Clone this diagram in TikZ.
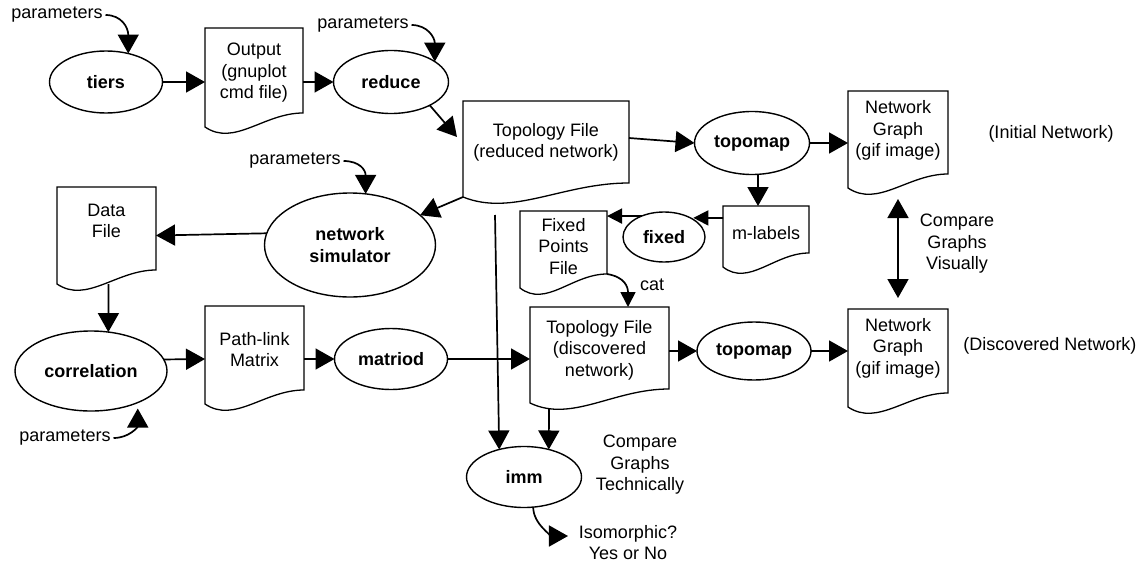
\documentclass[tikz,border=0pt]{standalone}
\usepackage{fontspec}
\setmainfont{Liberation Sans}
\usetikzlibrary{shapes.geometric,arrows.meta,calc}

% Document symbol: rectangle with a wavy bottom edge.
% #1 name, #2 left x, #3 top y, #4 right x, #5 left-corner y, #6 text y, #7 text
\newcommand\docshape[7]{%
  \node[docbody, minimum width={#4-#2}, minimum height={#5-#3}] (#1) at ({(#2+#4)/2},{(#3+#5)/2}) {};
  \draw[docline] (#1.north west) -- (#1.north east) -- ([yshift=14pt]#1.south east) coordinate (#1-rc)
     .. controls ([xshift={0.6*(#4-#2)}, yshift=14pt]#1.south west)
        and ([xshift={0.3*(#4-#2)}, yshift=-20pt]#1.south west) .. (#1.south west) -- cycle;
  \node[doctext] (#1-t) at ({(#2+#4)/2},#6) {#7};
}

\begin{document}
\begin{tikzpicture}[x=1pt,y=-1pt,
  every node/.style={font=\fontsize{18}{21.5}\selectfont, inner sep=0pt, outer sep=0pt},
  proc/.style={ellipse, draw, line width=1.4pt, font=\fontsize{18}{21.5}\selectfont\bfseries, align=center},
  docbody/.style={rectangle, draw=none},
  docline/.style={draw, line width=1.3pt, line join=miter},
  doctext/.style={align=center},
  note/.style={align=center},
  flow/.style={line width=1.7pt, -{Triangle[length=19pt,width=21pt]}},
  small flow/.style={line width=1.7pt, -{Triangle[length=15pt,width=15pt]}},
  both flow/.style={line width=1.7pt, {Triangle[length=19pt,width=21pt]}-{Triangle[length=19pt,width=21pt]}},
]
\useasboundingbox (0,0) rectangle (1145,562);

% processes
\node[proc, minimum width=113pt, minimum height=62pt] (tiers) at (106,82) {tiers};
\node[proc, minimum width=115pt, minimum height=63pt] (reduce) at (391,82) {reduce};
\node[proc, minimum width=115pt, minimum height=63pt] (topomap1) at (752,143) {topomap};
\node[proc, minimum width=82pt, minimum height=50pt] (fixed) at (664,237) {fixed};
\node[proc, minimum width=171pt, minimum height=104pt] (ns) at (350,245) {network\\simulator};
\node[proc, minimum width=152pt, minimum height=80pt] (corr) at (91,371) {correlation};
\node[proc, minimum width=113pt, minimum height=61pt] (matriod) at (391,359) {matriod};
\node[proc, minimum width=114pt, minimum height=58pt] (topomap2) at (754,351) {topomap};
\node[proc, minimum width=115pt, minimum height=61pt] (imm) at (524,477) {imm};

% documents
\docshape{output}{205}{28}{303}{127}{73}{Output\\(gnuplot\\cmd file)}
\docshape{toporeduced}{463}{101}{629}{197}{142.5}{Topology File\\(reduced network)}
\docshape{ngone}{848}{91}{948}{188}{130.5}{Network\\Graph\\(gif image)}
\docshape{mlabels}{723}{206}{809}{267}{233}{m-labels}
\docshape{fp}{520}{211}{607}{288}{246.5}{Fixed\\Points\\File}
\docshape{datafile}{57}{187}{156}{284}{221}{Data\\File}
\docshape{pathlink}{205}{306}{304}{404}{349.5}{Path-link\\Matrix}
\docshape{topodisc}{530}{307}{669}{403}{350}{Topology File\\(discovered\\network)}
\docshape{ngtwo}{848}{309}{948}{407}{348}{Network\\Graph\\(gif image)}

% free text
\node (p1) at (57,15) {parameters};
\node (p2) at (363,25) {parameters};
\node (p3) at (295,161) {parameters};
\node (p4) at (65,438) {parameters};
\node (initial) at (1051,134) {(Initial Network)};
\node (discovered) at (1050,346) {(Discovered Network)};
\node[note] (vis) at (957,244) {Compare\\Graphs\\Visually};
\node[note] (tech) at (640,465) {Compare\\Graphs\\Technically};
\node[note] (iso) at (628,542.5) {Isomorphic?\\Yes or No};
\node (cat) at (652,285) {cat};

% parameter inputs
\draw[flow] ([xshift=3pt]p1.east) .. controls +(16,0) and +(0,-26) .. (tiers.52);
\draw[flow] ([xshift=3pt]p2.east) .. controls +(16,0) and +(0,-24) .. (reduce.25);
\draw[flow] ([xshift=3pt]p3.east) .. controls +(16,0) and +(0,-24) .. (ns.73);
\draw[flow, shorten >=6pt] ([xshift=3pt]p4.east) .. controls +(16,0) and +(0,24) .. (corr.-34);

% main flow
\draw[flow] (tiers.east) -- (output.west |- tiers.east);
\draw[flow] (output.east |- reduce.west) -- (reduce.west);
\draw[flow] (reduce.-31) -- ([xshift=-6pt,yshift=-36pt]toporeduced.north west);
\draw[flow] ([yshift=11pt]toporeduced.east) -- (topomap1.west);
\draw[flow] (topomap1.east) -- (ngone.west |- topomap1.east);
\draw[flow] ([xshift=6pt]topomap1.south) -- ([xshift=-8pt]mlabels.north);
\draw[small flow, shorten >=3pt] ([yshift=18.5pt]mlabels.west) -- (fixed.36);
\draw[small flow] (fixed.137) -- (fixed.137 -| fp.east);
\draw[small flow] (fp-rc) .. controls +(18,3) and +(0,-20) .. ([xshift=28.5pt]topodisc.north);
\draw[flow] (toporeduced.south west) -- (ns.23);
\draw[flow] (ns.172) -- (datafile.east);
\draw[flow] ([xshift=2pt]datafile.south) -- (corr.66);
\draw[flow] (corr.9) -- ([yshift=-4pt]pathlink.west);
\draw[flow] (pathlink.east |- matriod.west) -- (matriod.west);
\draw[flow] (matriod.east) -- (topodisc.west |- matriod.east);
\draw[flow] (topodisc.east |- topomap2.west) -- (topomap2.west);
\draw[flow] (topomap2.east) -- (ngtwo.west |- topomap2.east);
\draw[both flow] ([yshift=-11pt]ngone.south) -- ([yshift=11pt]ngtwo.north);

% comparison of the two topologies
\coordinate (drop) at (495,215);
\draw[flow] (drop) -- (imm.132);
\draw[flow] ([xshift=-50.5pt,yshift=-5.5pt]topodisc.south) -- (imm.48);
\draw[flow] (imm.-73) .. controls +(0,18) and +(-14,0) .. ([xshift=-11pt,yshift=6.5pt]iso.west);

\end{tikzpicture}
\end{document}
